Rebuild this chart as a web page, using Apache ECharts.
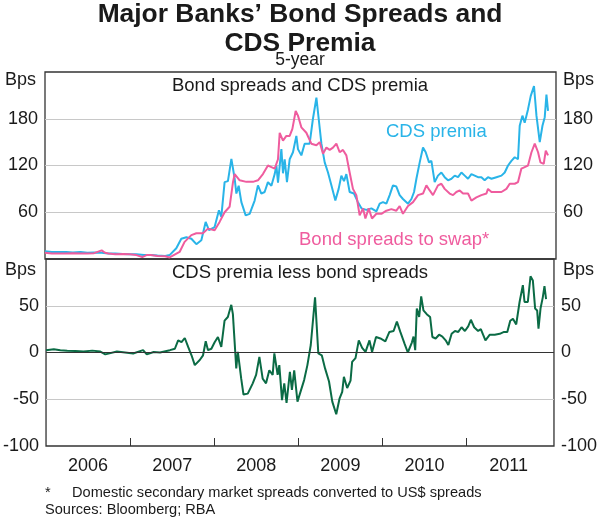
<!DOCTYPE html>
<html>
<head>
<meta charset="utf-8">
<title>Major Banks' Bond Spreads and CDS Premia</title>
<script src="https://cdn.jsdelivr.net/npm/echarts@6/dist/echarts.min.js"></script>
<style>
  html, body { margin: 0; padding: 0; background: #fff; }
  #main { width: 600px; height: 519px; }
</style>
</head>
<body>
<div id="main"></div>
<script>
// time in decimal years, values in basis points
var cdsT = [2006.00, 2006.08, 2006.17, 2006.25, 2006.33, 2006.42, 2006.50, 2006.58, 2006.67, 2006.75,
  2006.83, 2006.92, 2007.00, 2007.08, 2007.17, 2007.25, 2007.33, 2007.42, 2007.473, 2007.552,
  2007.611, 2007.671, 2007.730, 2007.789, 2007.848, 2007.899, 2007.938, 2008.005, 2008.056, 2008.084,
  2008.123, 2008.162, 2008.203, 2008.242, 2008.262, 2008.289, 2008.321, 2008.372, 2008.419, 2008.478,
  2008.517, 2008.557, 2008.596, 2008.635, 2008.676, 2008.715, 2008.735, 2008.754, 2008.794, 2008.813,
  2008.833, 2008.860, 2008.892, 2008.931, 2008.971, 2008.990, 2009.030, 2009.069, 2009.128, 2009.167,
  2009.208, 2009.235, 2009.267, 2009.306, 2009.345, 2009.385, 2009.432, 2009.471, 2009.503, 2009.534,
  2009.562, 2009.601, 2009.652, 2009.699, 2009.740, 2009.799, 2009.858, 2009.917, 2009.956, 2009.995,
  2010.035, 2010.074, 2010.113, 2010.153, 2010.192, 2010.231, 2010.291, 2010.331, 2010.362, 2010.390,
  2010.429, 2010.468, 2010.500, 2010.539, 2010.567, 2010.606, 2010.645, 2010.685, 2010.724, 2010.764,
  2010.804, 2010.843, 2010.882, 2010.922, 2010.961, 2011.000, 2011.040, 2011.079, 2011.118, 2011.158,
  2011.197, 2011.236, 2011.277, 2011.336, 2011.395, 2011.434, 2011.473, 2011.513, 2011.552, 2011.591,
  2011.611, 2011.643, 2011.670, 2011.709, 2011.741, 2011.780, 2011.809, 2011.848, 2011.880, 2011.907,
  2011.927, 2011.946];
var cdsV = [10, 9, 9, 9, 8.5, 9, 8, 8.5, 8, 7,
  7, 6.5, 6, 6, 5, 5, 4.5, 4, 5, 13.7,
  26, 28, 26, 19, 24, 47.6, 37, 41, 62.5, 54,
  98.7, 100, 128.5, 103, 84, 94, 73, 56, 58, 75,
  94.5, 84, 86, 98.7, 94, 109, 120, 98, 141, 110,
  128, 98.7, 128, 137, 158, 141, 133, 148, 148, 180,
  207, 180, 148, 124, 111, 94.5, 75, 90, 107, 100,
  109, 86, 84, 73, 65, 63, 65, 61, 71, 73,
  71, 82, 94.5, 93, 82, 77, 71, 77, 86, 103,
  124, 143, 137, 124, 126, 98.7, 107, 111, 105, 101,
  103, 107, 105, 111, 107, 103, 109, 107, 105, 105,
  101, 105, 103, 105, 107, 111, 120, 126, 130.6, 128,
  171, 184, 175, 192, 209, 222, 184, 150, 171, 182,
  211, 190];

var bondT = [2006.00, 2006.08, 2006.17, 2006.25, 2006.33, 2006.42, 2006.50, 2006.58, 2006.67, 2006.71,
  2006.75, 2006.83, 2006.92, 2007.00, 2007.08, 2007.15, 2007.20, 2007.25, 2007.33, 2007.42,
  2007.473, 2007.591, 2007.650, 2007.730, 2007.789, 2007.867, 2007.926, 2008.005, 2008.064, 2008.123,
  2008.182, 2008.222, 2008.242, 2008.301, 2008.380, 2008.458, 2008.517, 2008.576, 2008.635, 2008.676,
  2008.715, 2008.754, 2008.774, 2008.813, 2008.853, 2008.892, 2008.924, 2008.963, 2008.990, 2009.030,
  2009.089, 2009.148, 2009.208, 2009.247, 2009.286, 2009.326, 2009.365, 2009.404, 2009.444, 2009.483,
  2009.522, 2009.562, 2009.601, 2009.640, 2009.680, 2009.719, 2009.759, 2009.787, 2009.826, 2009.865,
  2009.917, 2009.976, 2010.035, 2010.094, 2010.153, 2010.192, 2010.231, 2010.291, 2010.350, 2010.409,
  2010.468, 2010.508, 2010.547, 2010.586, 2010.645, 2010.685, 2010.724, 2010.783, 2010.823, 2010.862,
  2010.902, 2010.941, 2011.000, 2011.040, 2011.099, 2011.158, 2011.218, 2011.236, 2011.277, 2011.336,
  2011.395, 2011.454, 2011.493, 2011.552, 2011.591, 2011.631, 2011.670, 2011.709, 2011.750, 2011.789,
  2011.828, 2011.856, 2011.895, 2011.919, 2011.946];
var bondV = [8, 7, 7, 7, 7.5, 7, 7, 7.5, 11, 8,
  7, 6, 6.5, 6, 5, 2.5, 5, 5, 4, 3.5,
  2, 9, 22, 30.6, 33, 33, 39, 37, 47.6, 60,
  67, 98.7, 109, 101, 99, 99, 101, 109, 120, 118,
  116, 128, 162, 152, 158, 158, 167, 190, 184, 169,
  162, 148, 146, 150, 135, 143, 140, 143, 148, 137,
  140, 133, 111, 90, 82, 56, 65, 52, 65, 52,
  58, 58, 62, 64, 62, 68, 58, 68, 73, 82,
  84, 94.5, 88, 82, 94.5, 96.6, 90, 84, 82, 86,
  88, 84, 84, 75, 79, 82, 84, 90, 86, 86,
  86, 90, 96.6, 96.6, 98.7, 116, 118, 120, 137, 148,
  137, 124, 122, 139, 133];

var diffT = [2006.00, 2006.093, 2006.17, 2006.252, 2006.35, 2006.445, 2006.55, 2006.646, 2006.705, 2006.843,
  2006.94, 2007.036, 2007.154, 2007.198, 2007.28, 2007.355, 2007.473, 2007.532, 2007.571, 2007.611,
  2007.650, 2007.690, 2007.730, 2007.769, 2007.828, 2007.867, 2007.899, 2007.926, 2007.966, 2008.005,
  2008.044, 2008.084, 2008.123, 2008.162, 2008.203, 2008.222, 2008.262, 2008.281, 2008.321, 2008.348,
  2008.399, 2008.458, 2008.498, 2008.537, 2008.576, 2008.616, 2008.655, 2008.695, 2008.715, 2008.754,
  2008.774, 2008.806, 2008.833, 2008.860, 2008.900, 2008.924, 2008.951, 2008.990, 2009.069, 2009.108,
  2009.148, 2009.199, 2009.238, 2009.279, 2009.318, 2009.365, 2009.404, 2009.451, 2009.491, 2009.522,
  2009.542, 2009.581, 2009.621, 2009.640, 2009.680, 2009.719, 2009.759, 2009.799, 2009.846, 2009.877,
  2009.924, 2009.976, 2010.035, 2010.083, 2010.133, 2010.172, 2010.213, 2010.263, 2010.302, 2010.350,
  2010.370, 2010.390, 2010.409, 2010.437, 2010.461, 2010.488, 2010.527, 2010.567, 2010.594, 2010.633,
  2010.674, 2010.713, 2010.752, 2010.784, 2010.823, 2010.863, 2010.902, 2010.941, 2010.981, 2011.020,
  2011.052, 2011.091, 2011.138, 2011.170, 2011.197, 2011.225, 2011.277, 2011.336, 2011.395, 2011.446,
  2011.485, 2011.520, 2011.552, 2011.591, 2011.631, 2011.670, 2011.690, 2011.729, 2011.761, 2011.789,
  2011.816, 2011.840, 2011.856, 2011.880, 2011.907, 2011.927, 2011.946];
var diffV = [2.4, 3.5, 2.5, 2, 1.5, 1, 2, 1, -2, 1,
  0, -1, 2.5, -2, 0.5, 0, 2.5, 4, 13, 11,
  15.5, 6, -3, -13.5, -8, -3, 12, 2.5, 4, 11,
  16.6, 6, 34, 38, 51, 41, -17, 0.6, -28, -45,
  -44, -33, -24, -4.7, -28, -33, -19, -24, -1, -24,
  -13.5, -51, -33, -54, -20.6, -40, -19, -52.5, -29.5, -13.5,
  8, 59, -1, -3, -17, -31, -52.5, -66, -49, -42,
  -26, -38, -30, -10, -6, 13, 5, 0.6, 13, 0.6,
  16.6, 15, 12, 22, 23, 33, 22, 9.5, 0, 10.6,
  17, 2.5, 47, 38, 60, 45, 41, 38, 16.6, 15,
  19, 17, 13, 8, 20, 23, 22, 27, 23, 28,
  35, 27, 23, 25, 19, 13, 19, 19, 20, 22,
  22, 34, 36, 30, 54, 72, 54, 54, 81.5, 77,
  47, 45, 25.5, 47, 59, 71, 57];

// year boundaries get a tick, mid-years carry the label
var yearTicks = [2007, 2008, 2009, 2010, 2011];
var yearLabels = [2006.5, 2007.5, 2008.5, 2009.5, 2010.5, 2011.5];

var cdsColor = '#29b4e8';
var bondColor = '#ef5c9e';
var diffColor = '#0b6b45';
var textColor = '#1a1a1a';
var font = '"Liberation Sans", Arial, sans-serif';

function zip(t, v) {
  return t.map(function (x, i) { return [x, v[i]]; });
}

var myChart = echarts.init(document.getElementById('main'));

var yLabel = { fontSize: 18, color: textColor, fontFamily: font, margin: 7 };

function txt(text, left, top, size, color, weight, lh) {
  return {
    text: text, left: left, top: top, padding: 0,
    textStyle: { fontSize: size, fontWeight: weight || 'normal', lineHeight: lh || 20, color: color || textColor, fontFamily: font }
  };
}

option = {
  animation: false,
  textStyle: { fontFamily: font },
  title: [
    txt('Major Banks\u2019 Bond Spreads and\nCDS Premia', 'center', 0, 26.4, textColor, 'bold', 29),
    txt('5-year', 'center', 51, 17.5, textColor, 'normal', 18),
    txt('Bond spreads and CDS premia', 'center', 76, 18.5),
    txt('CDS premia less bond spreads', 'center', 263, 18.5),
    txt('CDS premia', 386, 122, 18.5, cdsColor),
    txt('Bond spreads to swap*', 299, 230, 18.5, bondColor),
    txt('Bps', 5, 70, 18),
    txt('Bps', 563, 70, 18),
    txt('Bps', 5, 260, 18),
    txt('Bps', 563, 260, 18),
    txt('*', 45, 485, 14.6, textColor, 'normal', 16),
    txt('Domestic secondary market spreads converted to US$ spreads', 72, 485, 14.6, textColor, 'normal', 16),
    txt('Sources: Bloomberg; RBA', 45, 502, 14.6, textColor, 'normal', 16)
  ],
  grid: [
    { left: 45, right: 44, top: 72, height: 187, show: true, borderColor: '#333', borderWidth: 1.3, backgroundColor: 'transparent' },
    { left: 45, right: 44, top: 259, height: 187, show: true, borderColor: '#333', borderWidth: 1.3, backgroundColor: 'transparent' }
  ],
  xAxis: [
    { gridIndex: 0, type: 'value', min: 2006, max: 2012.04, show: false, axisLine: { onZero: false } },
    {
      gridIndex: 1, type: 'value', min: 2006, max: 2012.04, position: 'bottom',
      axisLine: { show: false, onZero: false },
      axisTick: { show: true, inside: true, length: 8, customValues: yearTicks, lineStyle: { color: '#333', width: 1 } },
      splitLine: { show: false },
      axisLabel: {
        fontSize: 18, color: textColor, fontFamily: font, margin: 11, customValues: yearLabels,
        formatter: function (v) { return String(Math.floor(v)); }
      }
    }
  ],
  yAxis: [
    {
      gridIndex: 0, type: 'value', min: 0, max: 240, interval: 60, position: 'left',
      axisLine: { show: false }, axisTick: { show: false },
      splitLine: { show: true, showMinLine: false, showMaxLine: false, lineStyle: { color: '#c8c8c8', width: 1 } },
      axisLabel: Object.assign({ formatter: function (v) { return (v === 0 || v === 240) ? '' : v; } }, yLabel)
    },
    {
      gridIndex: 0, type: 'value', min: 0, max: 240, interval: 60, position: 'right',
      axisLine: { show: false }, axisTick: { show: false }, splitLine: { show: false },
      axisLabel: Object.assign({ formatter: function (v) { return (v === 0 || v === 240) ? '' : v; } }, yLabel)
    },
    {
      gridIndex: 1, type: 'value', min: -100, max: 100, interval: 50, position: 'left',
      axisLine: { show: false }, axisTick: { show: false },
      splitLine: { show: true, showMinLine: false, showMaxLine: false, lineStyle: { color: '#c8c8c8', width: 1 } },
      axisLabel: Object.assign({ formatter: function (v) { return v === 100 ? '' : v; } }, yLabel)
    },
    {
      gridIndex: 1, type: 'value', min: -100, max: 100, interval: 50, position: 'right',
      axisLine: { show: false }, axisTick: { show: false }, splitLine: { show: false },
      axisLabel: Object.assign({ formatter: function (v) { return v === 100 ? '' : v; } }, yLabel)
    }
  ],
  series: [
    {
      name: 'CDS premia', type: 'line', xAxisIndex: 0, yAxisIndex: 0,
      data: zip(cdsT, cdsV), showSymbol: false, symbol: 'none',
      lineStyle: { color: cdsColor, width: 2 }, itemStyle: { color: cdsColor }
    },
    {
      name: 'Bond spreads to swap*', type: 'line', xAxisIndex: 0, yAxisIndex: 0,
      data: zip(bondT, bondV), showSymbol: false, symbol: 'none',
      lineStyle: { color: bondColor, width: 2 }, itemStyle: { color: bondColor }
    },
    {
      name: 'CDS premia less bond spreads', type: 'line', xAxisIndex: 1, yAxisIndex: 2,
      data: zip(diffT, diffV), showSymbol: false, symbol: 'none',
      lineStyle: { color: diffColor, width: 2 }, itemStyle: { color: diffColor },
      markLine: {
        silent: true, symbol: ['none', 'none'], label: { show: false },
        lineStyle: { color: '#333', width: 1.2, type: 'solid' },
        data: [{ yAxis: 0 }]
      }
    }
  ]
};

myChart.setOption(option);
</script>
</body>
</html>
